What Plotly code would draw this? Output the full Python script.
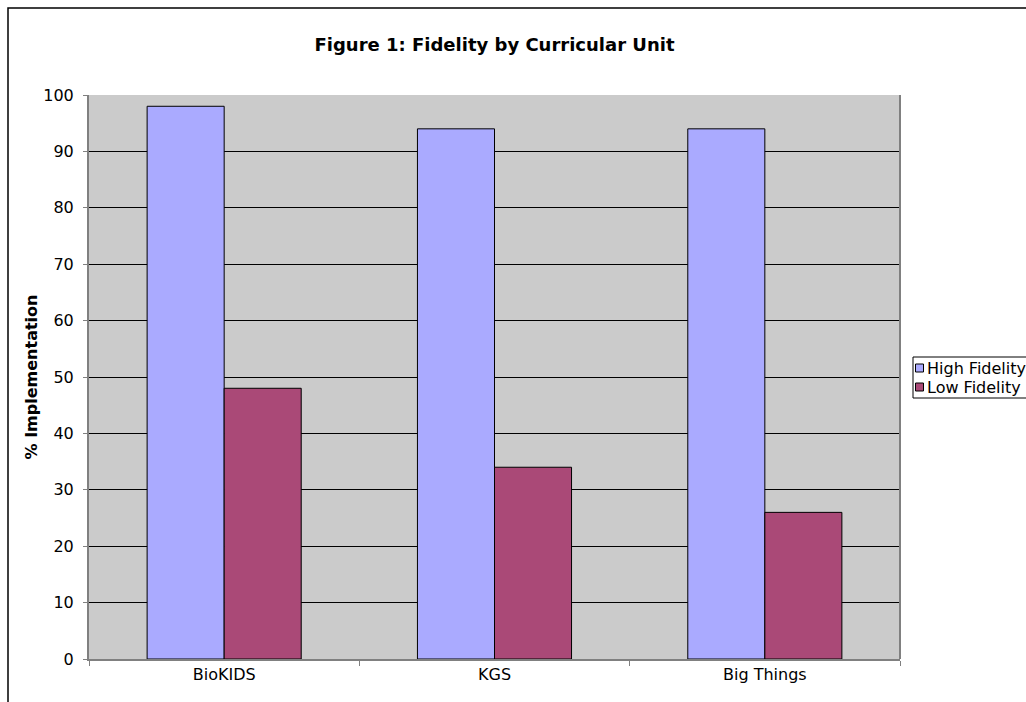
import plotly.graph_objects as go

categories = ["BioKIDS", "KGS", "Big Things"]
high_fidelity = [98, 94, 94]
low_fidelity = [48, 34, 26]
series_names = ["High Fidelity", "Low Fidelity"]
series_colors = ["#AAAAFF", "#AA4977"]

W, H = 1026, 702
L, R, T, B = 89, 126, 95, 43
pw, ph = W - L - R, H - T - B

def px_x(p):
    return (p - L) / pw

def px_y(p):
    return (H - B - p) / ph

font = "DejaVu Sans, Verdana, sans-serif"

fig = go.Figure()
for name, vals, col in zip(series_names, [high_fidelity, low_fidelity], series_colors):
    fig.add_trace(go.Bar(x=categories, y=vals, name=name, showlegend=False,
                         marker=dict(color=col, line=dict(color="black", width=1))))

fig.update_layout(
    width=W, height=H,
    margin=dict(l=L, r=R, t=T, b=B, autoexpand=False),
    paper_bgcolor="white",
    plot_bgcolor="#CBCBCB",
    barmode="group", bargap=0.43, bargroupgap=0,
    font=dict(family=font, size=16, color="black"),
    title=dict(text="<b>Figure 1: Fidelity by Curricular Unit</b>",
               x=0.5, xref="paper", xanchor="center",
               y=1 - 45 / H, yref="container", yanchor="middle",
               font=dict(family=font, size=18, color="black")),
    showlegend=False,
)
fig.update_yaxes(range=[0, 100], dtick=10, showgrid=True, gridcolor="black", gridwidth=1,
                 zeroline=False, showline=True, linecolor="#808080", linewidth=2,
                 ticks="outside", ticklen=4, tickcolor="#808080",
                 ticklabelstandoff=6,
                 tickfont=dict(size=16, color="black"),
                 title=dict(text="<b>% Implementation</b>", font=dict(size=16), standoff=2))
fig.update_xaxes(showline=True, linecolor="#808080", linewidth=2, ticks="outside",
                 tickson="boundaries", ticklen=5, tickcolor="#808080",
                 ticklabelstandoff=0,
                 tickfont=dict(size=16, color="black"), showgrid=False)

# right edge of plot area
fig.add_shape(type="line", xref="paper", yref="paper", x0=1, x1=1, y0=0, y1=1,
              line=dict(color="#808080", width=2))
# outer chart border
fig.add_shape(type="rect", xref="paper", yref="paper",
              x0=px_x(8), x1=px_x(1040), y0=px_y(720), y1=px_y(8),
              line=dict(color="black", width=1.5), fillcolor="rgba(0,0,0,0)", layer="below")

# legend box
fig.add_shape(type="rect", xref="paper", yref="paper",
              x0=px_x(913), x1=px_x(1040), y0=px_y(398), y1=px_y(357),
              line=dict(color="black", width=1), fillcolor="white")
row_y = [368, 387]
for name, col, ry in zip(series_names, series_colors, row_y):
    fig.add_shape(type="rect", xref="paper", yref="paper",
                  x0=px_x(915.5), x1=px_x(923.5), y0=px_y(ry + 4), y1=px_y(ry - 4),
                  line=dict(color="black", width=1), fillcolor=col)
    fig.add_annotation(xref="paper", yref="paper", x=px_x(925), y=px_y(ry),
                       xanchor="left", yanchor="middle", showarrow=False,
                       text=name, font=dict(family=font, size=16, color="black"))

fig.write_html("out.html")
